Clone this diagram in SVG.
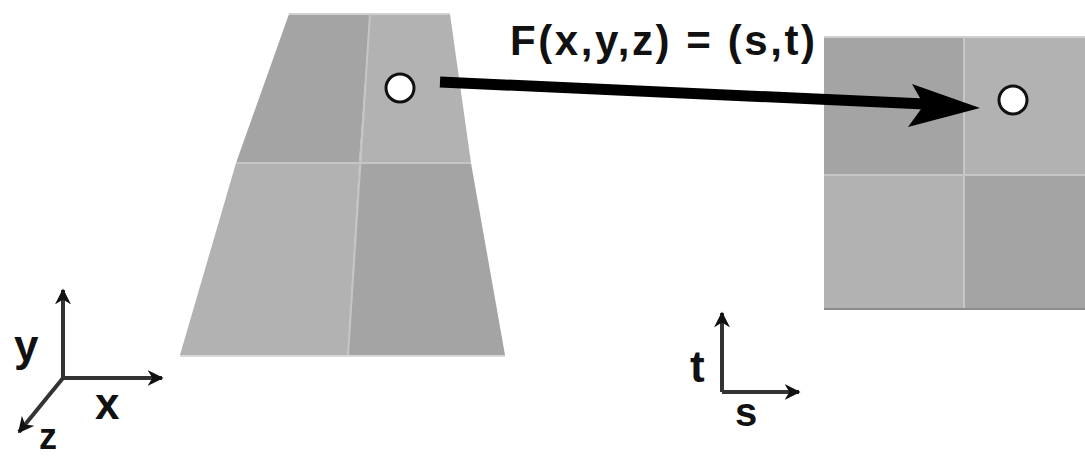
<svg xmlns="http://www.w3.org/2000/svg" width="1085" height="458" viewBox="0 0 1085 458">
<style>
.dark{fill:#a4a4a4}
.light{fill:#b2b2b2}
.div{stroke:#c6c6c6;stroke-width:2;fill:none}
.pt{fill:#ffffff;stroke:#111;stroke-width:3}
.lbl{font-family:"Liberation Sans",Arial,sans-serif;font-weight:bold;fill:#111}
.axis{stroke:#333;stroke-width:4;fill:none}
</style>
<defs>
<marker id="ah" viewBox="0 0 10 10" refX="9" refY="5" markerWidth="4" markerHeight="4" orient="auto" markerUnits="strokeWidth">
<path d="M0,0 L10,5 L0,10 L3,5 Z" fill="#111"/>
</marker>
</defs>
<rect width="1085" height="458" fill="#ffffff"/>
<g id="source-surface">
<polygon class="dark" points="289,14 370,14 359,163 236,163"/>
<polygon class="light" points="370,14 450,14 471,163 359,163"/>
<polygon class="light" points="236,163 359,163 348,355 180,355"/>
<polygon class="dark" points="359,163 471,163 505,355 348,355"/>
<line x1="289" y1="14" x2="450" y2="14" stroke="#d0d0d0" stroke-width="2"/>
<line class="div" x1="370" y1="14" x2="348" y2="355"/>
<line class="div" x1="236" y1="163" x2="471" y2="163"/>
<line x1="180" y1="356" x2="505" y2="356" stroke="#d8d8d8" stroke-width="2"/>
<circle class="pt" cx="400" cy="88" r="14"/>
</g>
<g id="target-texture">
<rect class="dark" x="824" y="37" width="140" height="138"/>
<rect class="light" x="964" y="37" width="121" height="138"/>
<rect class="light" x="824" y="175" width="140" height="134"/>
<rect class="dark" x="964" y="175" width="121" height="134"/>
<line x1="824" y1="37" x2="1085" y2="37" stroke="#d0d0d0" stroke-width="2"/>
<line class="div" x1="964" y1="37" x2="964" y2="309"/>
<line class="div" x1="824" y1="175" x2="1085" y2="175"/>
<line x1="824" y1="309" x2="1085" y2="309" stroke="#8c8c8c" stroke-width="2"/>
<circle class="pt" cx="1013" cy="100" r="14"/>
</g>
<g id="mapping-label">
<text class="lbl" x="510" y="55" font-size="42" textLength="305" lengthAdjust="spacing">F(x,y,z) = (s,t)</text>
</g>
<g id="connectors">
<line x1="440" y1="82" x2="925" y2="104" stroke="#000" stroke-width="11"/>
<polygon points="912,84 980,108 908,127 924,105" fill="#000"/>
</g>
<g id="xyz-axes">
<line class="axis" x1="63" y1="378" x2="63" y2="290" marker-end="url(#ah)"/>
<line class="axis" x1="63" y1="378" x2="162" y2="378" marker-end="url(#ah)"/>
<line class="axis" x1="63" y1="378" x2="19" y2="432" marker-end="url(#ah)"/>
<text class="lbl" x="14" y="361" font-size="44">y</text>
<text class="lbl" x="95" y="419" font-size="44">x</text>
<text class="lbl" x="39" y="449" font-size="36">z</text>
</g>
<g id="st-axes">
<line class="axis" x1="722" y1="392" x2="722" y2="313" marker-end="url(#ah)"/>
<line class="axis" x1="722" y1="392" x2="799" y2="392" marker-end="url(#ah)"/>
<text class="lbl" x="690" y="382" font-size="44">t</text>
<text class="lbl" x="735" y="426" font-size="40">s</text>
</g>
</svg>
